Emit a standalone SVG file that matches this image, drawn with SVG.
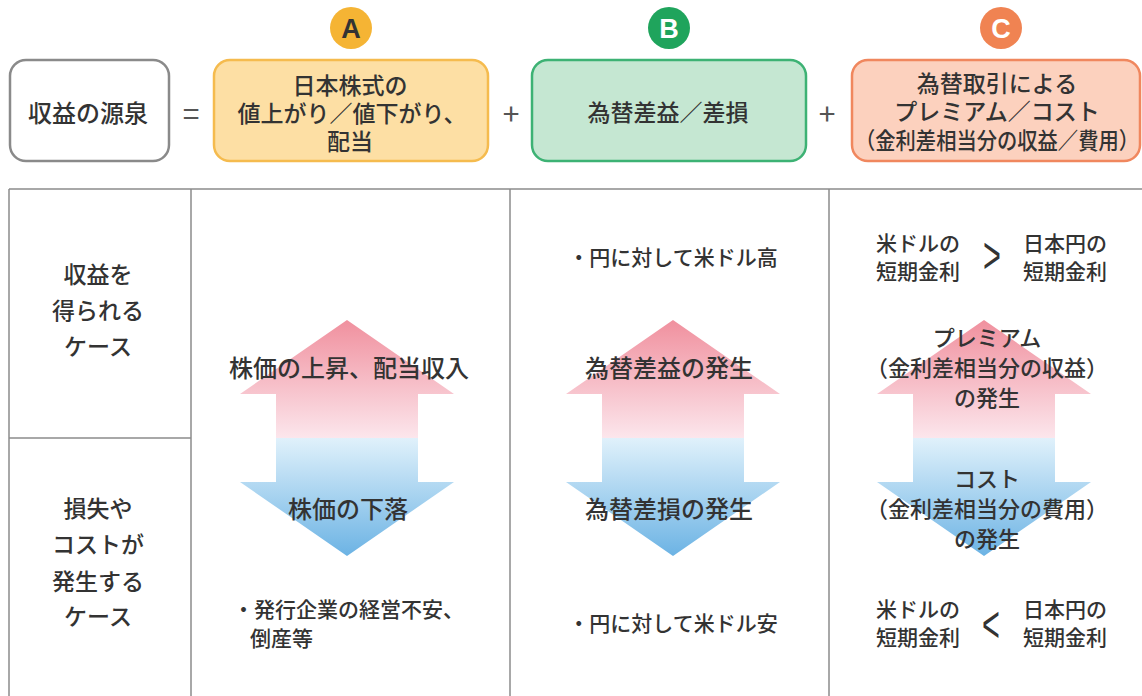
<svg xmlns="http://www.w3.org/2000/svg" width="1142" height="696" viewBox="0 0 1142 696">
<defs>
<linearGradient id="g" x1="0" y1="0" x2="0" y2="1">
<stop offset="0" stop-color="#F0909E"/>
<stop offset="0.5" stop-color="#FCE6EC"/>
<stop offset="0.5" stop-color="#E0F1FB"/>
<stop offset="1" stop-color="#6CB3E4"/>
</linearGradient>
<path id="arrow" d="M0,0 L107,74 L71,74 L71,162 L107,162 L0,236 L-107,162 L-71,162 L-71,74 L-107,74 Z"/>
</defs>
<style>
text{font-family:"Noto Sans CJK JP","Noto Sans",sans-serif;fill:#333;dominant-baseline:central;text-anchor:middle}
.h{font-size:23px;font-weight:500}
.t{font-size:21px;font-weight:500}
.m{font-size:23px;font-weight:500}
.a{font-size:24px;font-weight:500}
.c{font-size:22px;font-weight:500}
.l{text-anchor:start}
.op{font-size:30px;font-weight:400;fill:#555}
.chev{font-family:"Liberation Sans","DejaVu Sans",sans-serif;font-size:34px;font-weight:400}
.badge{font-family:"Liberation Sans","Noto Sans",sans-serif;font-size:27px;font-weight:700}
.grid{stroke:#8c8c8c;stroke-width:1.5;fill:none}
</style>
<rect width="1142" height="696" fill="#fff"/>

<g id="header">
<g id="source">
<rect x="10" y="60" width="159" height="101" rx="16" fill="#fff" stroke="#8a8a8a" stroke-width="2.5"/>
<text class="h" x="88" y="111" style="font-size:24px">収益の源泉</text>
</g>
<text class="op" x="191" y="112">=</text>
<g id="nodeA">
<circle cx="351" cy="28" r="21" fill="#F5B434"/>
<text class="badge" x="351" y="29" style="fill:#333">A</text>
<rect x="214" y="60" width="274" height="101" rx="16" fill="#FDDFA4" stroke="#F5BB4E" stroke-width="2.5"/>
<text class="h" x="350" y="84">日本株式の</text>
<text class="h" x="352" y="112">値上がり／値下がり、</text>
<text class="h" x="350" y="140">配当</text>
</g>
<text class="op" x="511" y="112">+</text>
<g id="nodeB">
<circle cx="669" cy="28" r="21" fill="#1FA45C"/>
<text class="badge" x="669" y="29" style="fill:#fff">B</text>
<rect x="532" y="60" width="274" height="101" rx="16" fill="#C5E7D2" stroke="#3DB274" stroke-width="2.5"/>
<text class="h" x="668" y="111">為替差益／差損</text>
</g>
<text class="op" x="827" y="112">+</text>
<g id="nodeC">
<circle cx="1001" cy="28" r="21" fill="#F08352"/>
<text class="badge" x="1001" y="29" style="fill:#fff">C</text>
<rect x="852" y="60" width="288" height="101" rx="16" fill="#FCD1BE" stroke="#F0875E" stroke-width="2.5"/>
<text class="h" x="997" y="82">為替取引による</text>
<text class="h" x="997" y="110">プレミアム／コスト</text>
<text class="h" x="997" y="139" textLength="284" lengthAdjust="spacingAndGlyphs">（金利差相当分の収益／費用）</text>
</g>
</g>

<g id="table">
<path class="grid" d="M9,189 H1142 M9,189 V696 M191,189 V696 M510,189 V696 M829,189 V696 M9,438 H191"/>
</g>

<g id="rows">
<text class="m" x="98" y="273">収益を</text>
<text class="m" x="98" y="309">得られる</text>
<text class="m" x="98" y="345">ケース</text>
<text class="m" x="98" y="507">損失や</text>
<text class="m" x="98" y="543">コストが</text>
<text class="m" x="98" y="580">発生する</text>
<text class="m" x="98" y="615">ケース</text>
</g>

<g id="colA">
<use href="#arrow" x="347" y="320" fill="url(#g)"/>
<text class="a" x="349" y="366">株価の上昇、配当収入</text>
<text class="a" x="348" y="507">株価の下落</text>
<text class="t l" x="233" y="608">・発行企業の経営不安、</text>
<text class="t l" x="250" y="637">倒産等</text>
</g>

<g id="colB">
<text class="t" x="673" y="256">・円に対して米ドル高</text>
<use href="#arrow" x="673" y="320" fill="url(#g)"/>
<text class="a" x="669" y="366">為替差益の発生</text>
<text class="a" x="669" y="507">為替差損の発生</text>
<text class="t" x="673" y="622">・円に対して米ドル安</text>
</g>

<g id="colC">
<text class="t" x="918" y="242">米ドルの</text>
<text class="t" x="918" y="270">短期金利</text>
<text class="chev" transform="translate(992,255) scale(0.9,1.5)" x="0" y="0">&gt;</text>
<text class="t" x="1065" y="242">日本円の</text>
<text class="t" x="1065" y="270">短期金利</text>
<use href="#arrow" x="984" y="320" fill="url(#g)"/>
<text class="c" x="987" y="336">プレミアム</text>
<text class="c" x="987" y="366">（金利差相当分の収益）</text>
<text class="c" x="987" y="396">の発生</text>
<text class="c" x="987" y="477">コスト</text>
<text class="c" x="987" y="507">（金利差相当分の費用）</text>
<text class="c" x="987" y="537">の発生</text>
<text class="t" x="918" y="608">米ドルの</text>
<text class="t" x="918" y="636">短期金利</text>
<text class="chev" transform="translate(991,624) scale(0.9,1.5)" x="0" y="0">&lt;</text>
<text class="t" x="1065" y="608">日本円の</text>
<text class="t" x="1065" y="636">短期金利</text>
</g>
</svg>
